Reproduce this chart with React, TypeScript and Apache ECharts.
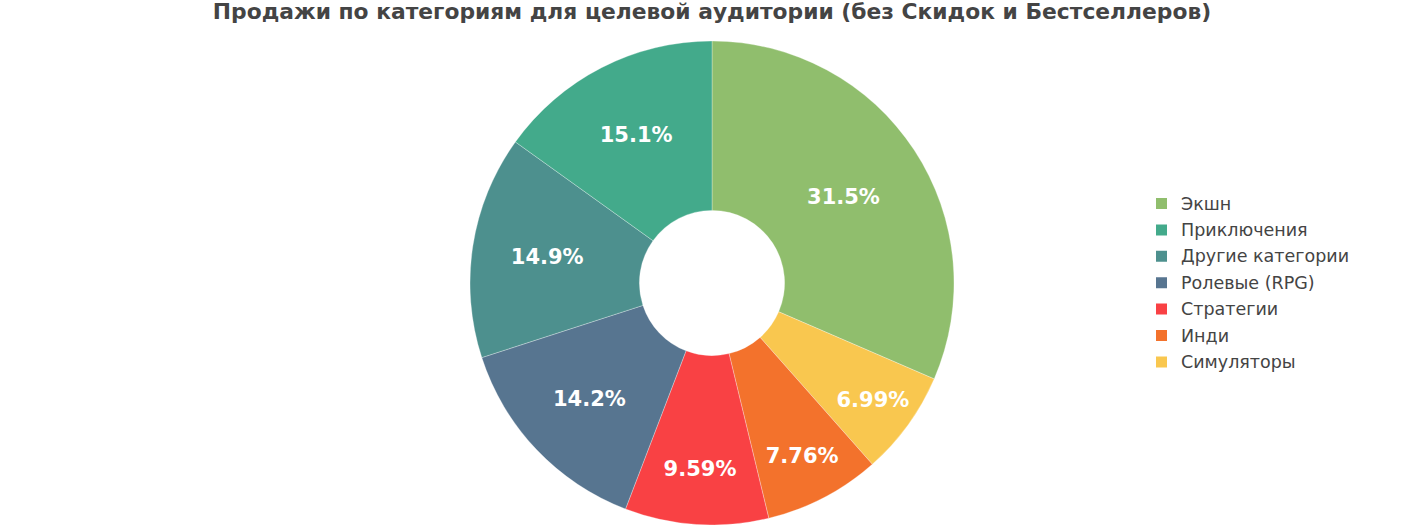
import React, { useEffect, useRef } from "react";
import * as echarts from "echarts";

const titleText = "Продажи по категориям для целевой аудитории (без Скидок и Бестселлеров)";
const sliceNames = ["Экшн", "Симуляторы", "Инди", "Стратегии", "Ролевые (RPG)", "Другие категории", "Приключения"];
const sliceValues = [31.5, 6.99, 7.76, 9.59, 14.2, 14.9, 15.1];
const sliceColors = ["#90BE6D", "#F9C74F", "#F3722C", "#F94144", "#577590", "#4D908E", "#43AA8B"];
const legendOrder = ["Экшн", "Приключения", "Другие категории", "Ролевые (RPG)", "Стратегии", "Инди", "Симуляторы"];

const CX = 712;
const CY = 283;
const R_OUT = 242;
const HOLE = 0.3;

export default function App() {
  const ref = useRef<HTMLDivElement>(null);
  useEffect(() => {
    if (!ref.current) return;
    const chart = echarts.init(ref.current, null, { renderer: "svg" });
    const total = sliceValues.reduce((a, b) => a + b, 0);
    const ring = 1 - HOLE;
    // label centre positions, as plotly places horizontal inside text
    const labelPos = sliceValues.map((v, i) => {
      const before = sliceValues.slice(0, i).reduce((a, b) => a + b, 0);
      const midFrac = (before + v / 2) / total;
      const halfAngle = (Math.PI * v) / total;
      const rIns = Math.min(1 / (1 + 1 / Math.sin(halfAngle)), ring / 2);
      const rc = (1 - rIns) * R_OUT;
      const a = Math.PI / 2 - midFrac * 2 * Math.PI;
      return { x: CX + rc * Math.cos(a), y: CY - rc * Math.sin(a) };
    });
    chart.setOption({
      animation: false,
      backgroundColor: "#ffffff",
      title: {
        text: titleText,
        left: "center",
        top: 0.5,
        padding: 0,
        textStyle: {
          fontFamily: "DejaVu Sans",
          fontWeight: "bold",
          fontSize: 21.8,
          color: "#444444",
        },
      },
      legend: {
        orient: "vertical",
        left: 1154,
        top: 194.5,
        padding: 0,
        itemWidth: 13,
        itemHeight: 13,
        itemGap: 8.4,
        icon: "rect",
        data: legendOrder,
        textStyle: {
          fontFamily: "DejaVu Sans",
          fontSize: 17.5,
          color: "#444444",
          padding: [0, 0, 0, 8],
        },
      },
      series: [
        {
          type: "pie",
          center: [CX, CY],
          radius: [R_OUT * HOLE, R_OUT],
          startAngle: 90,
          clockwise: true,
          avoidLabelOverlap: false,
          itemStyle: { borderColor: "#ffffff", borderWidth: 0.3 },
          label: {
            show: true,
            position: "inside",
            fontFamily: "DejaVu Sans",
            fontWeight: "bold",
            fontSize: 21,
            color: "#ffffff",
            formatter: (p: any) => `${p.value}%`,
          },
          labelLayout: (p: any) => ({
            x: labelPos[p.dataIndex].x,
            y: labelPos[p.dataIndex].y,
            align: "center",
            verticalAlign: "middle",
          }),
          labelLine: { show: false },
          emphasis: { disabled: true },
          data: sliceNames.map((n, i) => ({
            name: n,
            value: sliceValues[i],
            itemStyle: { color: sliceColors[i] },
          })),
        },
      ],
    });
    return () => chart.dispose();
  }, []);
  return (
    <div
      ref={ref}
      style={{ position: "fixed", left: 0, top: 0, width: 1424, height: 525 }}
    />
  );
}
